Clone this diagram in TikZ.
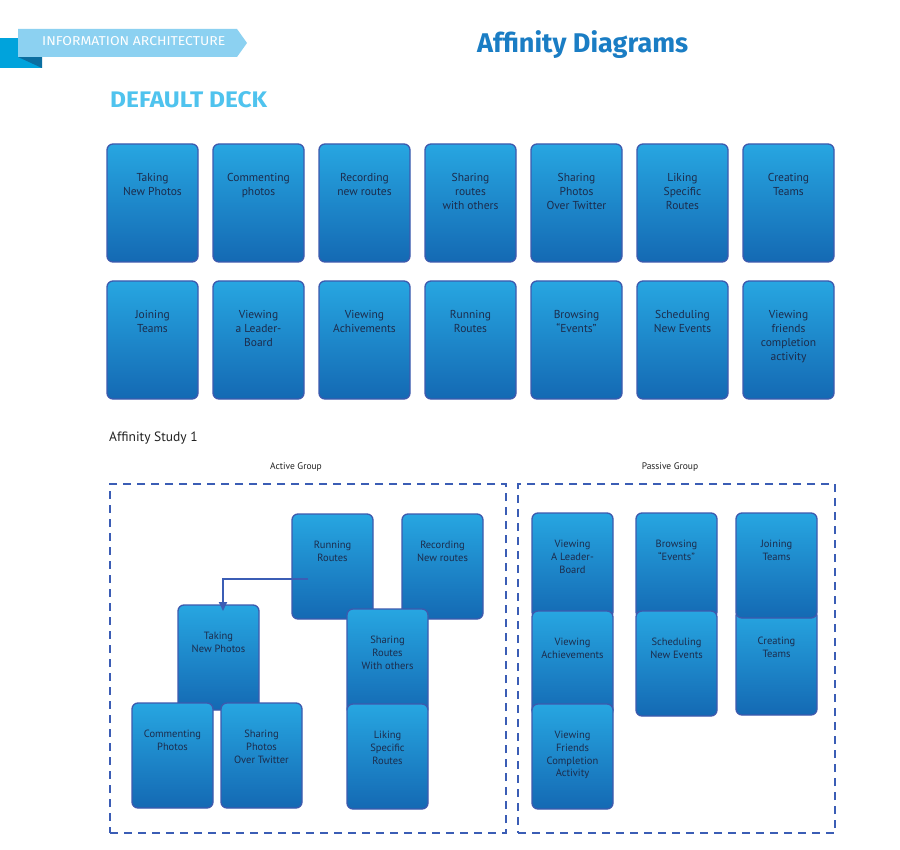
\documentclass[tikz,border=0pt]{standalone}
\usepackage{fontspec}
\setmainfont{PT Sans}
\newfontfamily\headfont{Fira Sans}
\usetikzlibrary{arrows.meta,calc}

\definecolor{cardtop}{HTML}{27A6E1}
\definecolor{cardbot}{HTML}{1469B3}
\definecolor{cardedge}{HTML}{3D5AAE}
\definecolor{cardink}{HTML}{1C2C4C}
\definecolor{frameblue}{HTML}{3B5DB5}
\definecolor{ribbon}{HTML}{8CD1F1}
\definecolor{ribbonside}{HTML}{00A3DC}
\definecolor{ribbonfold}{HTML}{0B6EA0}
\definecolor{titleblue}{HTML}{1A7DC4}
\definecolor{deckblue}{HTML}{4FC3EE}
\definecolor{plainink}{HTML}{222222}

\tikzset{
  card/.style={draw=cardedge, line width=1.3pt, rounded corners=6pt,
    top color=cardtop, bottom color=cardbot, inner sep=0pt, outer sep=0pt},
  deckcard/.style={card, minimum width=91pt, minimum height=118pt, anchor=north west},
  groupcard/.style={card, minimum width=81pt, minimum height=105pt, anchor=north west},
  decktext/.style={anchor=north, align=center, inner sep=0pt, text=cardink,
    font=\fontsize{11.5}{14}\selectfont},
  grouptext/.style={anchor=north, align=center, inner sep=0pt, text=cardink,
    font=\fontsize{10.5}{12.7}\selectfont},
  groupframe/.style={draw=frameblue, line width=2pt, dash pattern=on 8pt off 6pt,
    inner sep=0pt, anchor=north west},
  grouplabel/.style={text=plainink, inner sep=0pt, font=\fontsize{9.5}{11}\selectfont},
  link/.style={draw=frameblue, line width=2pt, -{Triangle[length=9pt,width=8pt]}},
}

% card in the default deck: name, left, top, text
\newcommand\putdeck[4]{%
  \node[deckcard] (#1) at (#2,#3) {};
  \node[decktext] (#1-t) at ([yshift=-29.5pt]#1.north) {#4};}
% card inside a group: name, left, top, text
\newcommand\putgroup[4]{%
  \node[groupcard] (#1) at (#2,#3) {};
  \node[grouptext] (#1-t) at ([yshift=-27pt]#1.north) {#4};}

\begin{document}
\begin{tikzpicture}[x=1pt,y=-1pt]
\useasboundingbox (0,0) rectangle (900,850);
\fill[white] (0,0) rectangle (900,850);

% ribbon header
\fill[ribbonside] (0,38) rectangle (42,68);
\fill[ribbonfold] (18,57) -- (42,57) -- (42,68) -- cycle;
\fill[ribbon] (18,29) -- (237,29) -- (247,43) -- (237,57) -- (18,57) -- cycle;
\node[anchor=base west, inner sep=0pt, text=white] (ribbontxt) at (42,46)
  {\resizebox{183pt}{9pt}{\headfont INFORMATION ARCHITECTURE}};

\node[anchor=base west, inner sep=0pt, text=titleblue] (title) at (477,53)
  {\resizebox{211pt}{!}{\headfont\bfseries Affinity Diagrams}};
\node[anchor=base west, inner sep=0pt, text=deckblue] (deck) at (110,108)
  {\resizebox{157pt}{16pt}{\headfont\bfseries DEFAULT DECK}};

% default deck, first row
\putdeck{a1}{107}{144}{Taking\\New Photos}
\putdeck{a2}{213}{144}{Commenting\\photos}
\putdeck{a3}{319}{144}{Recording\\new routes}
\putdeck{a4}{425}{144}{Sharing\\routes\\with others}
\putdeck{a5}{531}{144}{Sharing\\Photos\\Over Twitter}
\putdeck{a6}{637}{144}{Liking\\Specific\\Routes}
\putdeck{a7}{743}{144}{Creating\\Teams}
% default deck, second row
\putdeck{b1}{107}{281}{Joining\\Teams}
\putdeck{b2}{213}{281}{Viewing\\a Leader-\\Board}
\putdeck{b3}{319}{281}{Viewing\\Achivements}
\putdeck{b4}{425}{281}{Running\\Routes}
\putdeck{b5}{531}{281}{Browsing\\“Events”}
\putdeck{b6}{637}{281}{Scheduling\\New Events}
\putdeck{b7}{743}{281}{Viewing\\friends\\completion\\activity}

\node[anchor=base west, inner sep=0pt, text=plainink, font=\fontsize{13.5}{16}\selectfont]
  (study) at (109,441) {Affinity Study 1};

% group frames
\node[groupframe, minimum width=396pt, minimum height=349pt] (active) at (109,483) {};
\node[groupframe, minimum width=317pt, minimum height=349pt] (passive) at (517,483) {};
\node[grouplabel] (activelbl) at (296,467) {Active Group};
\node[grouplabel] (passivelbl) at (670,467) {Passive Group};

% active group
\putgroup{run}{292}{514}{Running\\Routes}
\putgroup{rec}{402}{514}{Recording\\New routes}
\putgroup{shr}{347}{609}{Sharing\\Routes\\With others}
\putgroup{like}{347}{704}{Liking\\Specific\\Routes}
\putgroup{take}{178}{605}{Taking\\New Photos}
\putgroup{comm}{132}{703}{Commenting\\Photos}
\putgroup{shp}{221}{703}{Sharing\\Photos\\Over Twitter}

\coordinate (runfrom) at ($(run.north west)+(16,65)$);
\draw[link] (runfrom) -| ($(take.north)+(4.5,6)$);

% passive group
\putgroup{lead}{532}{513}{Viewing\\A Leader-\\Board}
\putgroup{ach}{532}{611}{Viewing\\Achievements}
\putgroup{frnd}{532}{704}{Viewing\\Friends\\Completion\\Activity}
\putgroup{brw}{636}{513}{Browsing\\“Events”}
\putgroup{sch}{636}{611}{Scheduling\\New Events}
\putgroup{crt}{736}{610}{Creating\\Teams}
\putgroup{join}{736}{513}{Joining\\Teams}

\end{tikzpicture}
\end{document}
